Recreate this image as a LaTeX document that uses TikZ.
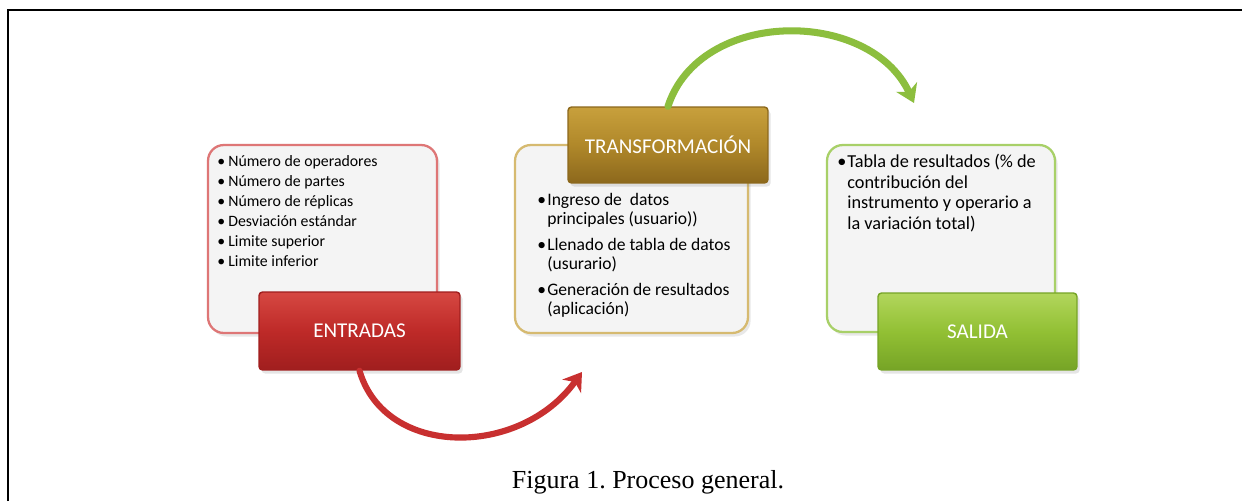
\documentclass[tikz,border=0pt]{standalone}
\usepackage{fontspec}
\setmainfont{Carlito}
\newfontfamily\capfont{Liberation Serif}
\usetikzlibrary{arrows.meta,shadows}
\definecolor{redTop}{RGB}{214,72,66}
\definecolor{redMid}{RGB}{190,42,40}
\definecolor{redBot}{RGB}{160,30,30}
\definecolor{goldTop}{RGB}{200,160,60}
\definecolor{goldMid}{RGB}{176,136,42}
\definecolor{goldBot}{RGB}{140,104,28}
\definecolor{grnTop}{RGB}{178,214,92}
\definecolor{grnMid}{RGB}{146,192,52}
\definecolor{grnBot}{RGB}{118,164,38}
\definecolor{redLine}{RGB}{222,118,118}
\definecolor{goldLine}{RGB}{214,186,112}
\definecolor{grnLine}{RGB}{168,208,104}
\definecolor{boxFill}{RGB}{244,244,244}
\definecolor{redArrow}{RGB}{200,48,48}
\definecolor{grnArrow}{RGB}{140,190,62}
\newcommand{\bul}[1]{\makebox[#1][l]{•}}
\frenchspacing
\begin{document}
\begin{tikzpicture}[x=0.02cm,y=-0.02cm,
  wbox/.style={draw, line width=1.3pt, rounded corners=9pt, fill=boxFill,
    drop shadow={opacity=0.18, shadow xshift=1.5pt, shadow yshift=-2pt}},
  cbox/.style={draw=#1Bot, line width=0.8pt, rounded corners=2pt,
    top color=#1Top, bottom color=#1Bot, middle color=#1Mid,
    text=white, font=\fontsize{12}{14}\selectfont,
    drop shadow={opacity=0.2, shadow xshift=1.5pt, shadow yshift=-2pt}},
  btext/.style={inner sep=0pt, align=left, anchor=base west},
  bigarrow/.style={line width=#1, line cap=round, -{Stealth[length=10pt,width=13pt,inset=3pt]}}
]
\useasboundingbox (0,0) rectangle (1242,501);
\fill[white] (0,0) rectangle (1242,501);
% frame
\draw[line width=1.2pt] (8,501) -- (8,10) -- (1242,10);

% white boxes
\node[wbox, draw=redLine, minimum width=4.58cm, minimum height=3.76cm] (ebox) at (322.5,239) {};
\node[wbox, draw=goldLine, minimum width=4.66cm, minimum height=3.76cm] (tbox) at (631.5,239) {};
\node[wbox, draw=grnLine, minimum width=4.56cm, minimum height=3.74cm] (sbox) at (941,238.5) {};

% texts (anchored at the baseline of the last line)
\node[btext, font=\fontsize{9}{11.3}\selectfont] (etext) at (217,266)
  {\bul{0.22cm}Número de operadores\\
   \bul{0.22cm}Número de partes\\
   \bul{0.22cm}Número de réplicas\\
   \bul{0.22cm}Desviación estándar\\
   \bul{0.22cm}Limite superior\\
   \bul{0.22cm}Limite inferior};
\node[btext, font=\fontsize{10}{10.8}\selectfont] (ttext) at (537,314)
  {\bul{0.2cm}Ingreso de\ \ datos\\
   \hspace*{0.2cm}principales (usuario))\\[4pt]
   \bul{0.2cm}Llenado de tabla de datos\\
   \hspace*{0.2cm}(usurario)\\[4pt]
   \bul{0.2cm}Generación de resultados\\
   \hspace*{0.2cm}(aplicación)};
\node[btext, font=\fontsize{10.4}{11.6}\selectfont] (stext) at (837,229)
  {\bul{0.2cm}Tabla de resultados (\% de\\
   \hspace*{0.2cm}contribución del\\
   \hspace*{0.2cm}instrumento y operario a\\
   \hspace*{0.2cm}la variación total)};

% coloured boxes
\node[cbox=red, minimum width=4.02cm, minimum height=1.56cm] (entradas) at (359.5,331) {ENTRADAS};
\node[cbox=gold, minimum width=4.0cm, minimum height=1.52cm] (transf) at (668,145) {TRANSFORMACIÓN};
\node[cbox=grn, minimum width=3.98cm, minimum height=1.54cm] (salida) at (977.5,331.5) {SALIDA};

% arrows
\coordinate (redend) at (582,372);
\coordinate (grnend) at (914,103);
\draw[bigarrow=3.5pt, redArrow] (entradas.south) .. controls (385,458) and (520,458) .. (redend);
\draw[bigarrow=4pt, grnArrow] (transf.north) .. controls (700,8) and (870,8) .. (grnend);

% caption
\node[font=\capfont\fontsize{14.8}{17}\selectfont, anchor=base] (cap) at (648,488) {Figura 1. Proceso general.};
\end{tikzpicture}
\end{document}
